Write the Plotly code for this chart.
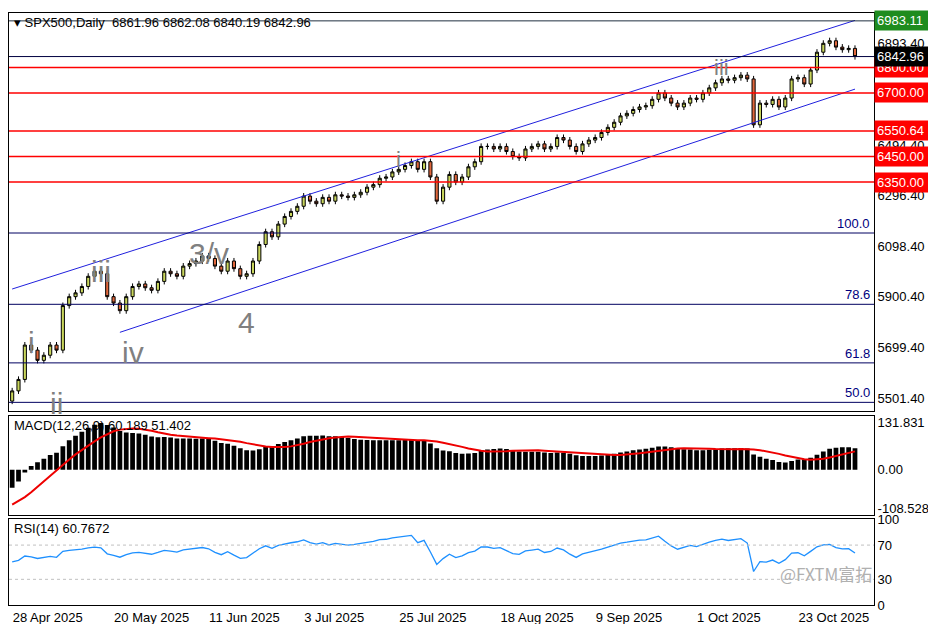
import pandas as pd
import plotly.graph_objects as go
from plotly.subplots import make_subplots

# closes before the visible window (only used so the indicators are warmed up)
hist_closes = [5850, 5780, 5840, 5740, 5770, 5615, 5570, 5600, 5520, 5640, 5675, 5615, 5660, 5665,
               5660, 5770, 5780, 5710, 5690, 5580, 5610, 5400, 5080, 5060, 5000, 5460, 5270, 5360,
               5400, 5400, 5280, 5160, 5290, 5370, 5480, 5490]

# visible daily closes, from 28 Apr 2025
closes = [5530, 5575, 5710, 5690, 5650, 5670, 5710, 5690, 5865, 5900, 5915, 5940, 5980, 6000,
          5990, 5900, 5875, 5845, 5900, 5940, 5950, 5935, 5925, 5960, 6000, 5990, 5980, 6020,
          6030, 6040, 6060, 6050, 6020, 6000, 6040, 6010, 5980, 5990, 6040, 6105, 6155, 6135,
          6185, 6215, 6235, 6255, 6295, 6275, 6265, 6290, 6275, 6300, 6295, 6290, 6300, 6310,
          6330, 6340, 6365, 6370, 6390, 6400, 6415, 6430, 6400, 6430, 6370, 6275, 6330, 6380,
          6350, 6370, 6410, 6430, 6490, 6490, 6480, 6490, 6470, 6450, 6445, 6480, 6490, 6500,
          6480, 6490, 6525, 6515, 6490, 6470, 6500, 6515, 6525, 6545, 6565, 6585, 6610, 6620,
          6635, 6645, 6650, 6675, 6700, 6680, 6660, 6645, 6660, 6680, 6675, 6700, 6720, 6740,
          6755, 6750, 6760, 6770, 6755, 6575, 6660, 6655, 6675, 6645, 6680, 6755, 6760, 6735,
          6790, 6860, 6895, 6905, 6880, 6870, 6875, 6842.96]
wick = 12

holidays = ["2025-05-26", "2025-06-19", "2025-07-04", "2025-09-01"]
days = [d for d in pd.bdate_range("2025-04-28", periods=len(closes) + 6).strftime("%Y-%m-%d")
        if d not in holidays][:len(closes)]

tick_dates = ["2025-04-28", "2025-05-20", "2025-06-11", "2025-07-03", "2025-07-25",
              "2025-08-18", "2025-09-09", "2025-10-01", "2025-10-23"]
tick_text = ["28 Apr 2025", "20 May 2025", "11 Jun 2025", "3 Jul 2025", "25 Jul 2025",
             "18 Aug 2025", "9 Sep 2025", "1 Oct 2025", "23 Oct 2025"]

red_levels = [6800.00, 6700.00, 6550.64, 6450.00, 6350.00]
fib_levels = [6150, 5870, 5640, 5485]
fib_names = ["100.0", "78.6", "61.8", "50.0"]
price_ticks = [5501.40, 5699.40, 5900.40, 6098.40, 6296.40, 6494.40, 6893.40]

upper_channel = [5930, 6985]
lower_channel = [5760, 6715]

waves = [("i", 3, 5720, 30), ("ii", 7, 5480, 30), ("iii", 14, 6000, 30), ("iv", 19, 5680, 30),
         ("3/v", 31, 6070, 30), ("4", 37, 5800, 30), ("i", 61, 6440, 22), ("iii", 112, 6800, 22)]

all_c = pd.Series(hist_closes + closes)
opens = [hist_closes[-1]] + closes[:-1]
highs = [max(o, c) + wick for o, c in zip(opens, closes)]
lows = [min(o, c) - wick for o, c in zip(opens, closes)]

macd_all = all_c.ewm(span=12, adjust=False).mean() - all_c.ewm(span=26, adjust=False).mean()
signal_all = macd_all.rolling(9).mean()
delta = all_c.diff()
gain = delta.clip(lower=0).ewm(alpha=1 / 14, adjust=False).mean()
loss = (-delta.clip(upper=0)).ewm(alpha=1 / 14, adjust=False).mean()
rsi_all = 100 - 100 / (1 + gain / loss)
n0 = len(hist_closes)
macd = macd_all[n0:].tolist()
signal = signal_all[n0:].tolist()
rsi = rsi_all[n0:].tolist()

fig = make_subplots(rows=3, cols=1, shared_xaxes=True, vertical_spacing=0.008,
                    row_heights=[0.67, 0.166, 0.144])

fig.add_trace(go.Candlestick(x=days, open=opens, high=highs, low=lows, close=closes,
                             increasing=dict(line=dict(color="black", width=1), fillcolor="#c9d65c"),
                             decreasing=dict(line=dict(color="black", width=1), fillcolor="#e0673c"),
                             whiskerwidth=0, showlegend=False), row=1, col=1)

lab = dict(family="Liberation Sans", size=13, color="white")


def tag(y, text, color):
    fig.add_annotation(x=1.0, xref="x domain", xanchor="left", y=y, yref="y", text=text,
                       showarrow=False, bgcolor=color, font=lab, borderpad=2, width=60,
                       align="left")


for lvl in red_levels:
    fig.add_hline(y=lvl, line=dict(color="#ff0000", width=1.5), row=1, col=1)
    tag(lvl, f"{lvl:.2f}", "#ff0000")
for lvl, name in zip(fib_levels, fib_names):
    fig.add_hline(y=lvl, line=dict(color="#000060", width=1), row=1, col=1)
    fig.add_annotation(x=0.998, xref="x domain", xanchor="right", y=lvl, yref="y",
                       yanchor="bottom", text=name, showarrow=False,
                       font=dict(family="Liberation Sans", color="#000080", size=13))
fig.add_hline(y=6983.11, line=dict(color="#203040", width=1), row=1, col=1)
tag(6983.11, "6983.11", "#1e8c1e")
fig.add_hline(y=closes[-1], line=dict(color="#000040", width=1), row=1, col=1)
tag(closes[-1], f"{closes[-1]:.2f}", "black")

fig.add_trace(go.Scatter(x=[days[0], days[-1]], y=upper_channel, mode="lines",
                         line=dict(color="#2020dd", width=1), showlegend=False), row=1, col=1)
fig.add_trace(go.Scatter(x=[days[17], days[-1]], y=lower_channel, mode="lines",
                         line=dict(color="#2020dd", width=1), showlegend=False), row=1, col=1)

for txt, i, p, sz in waves:
    fig.add_annotation(x=days[i], y=p, xref="x", yref="y", text=txt, showarrow=False,
                       font=dict(family="Liberation Sans", color="#808080", size=sz))

fig.add_trace(go.Bar(x=days, y=macd, marker=dict(color="black", line_width=0), width=0.75,
                     showlegend=False), row=2, col=1)
fig.add_trace(go.Scatter(x=days, y=signal, mode="lines", line=dict(color="#ee0000", width=2),
                         showlegend=False), row=2, col=1)
fig.add_trace(go.Scatter(x=days, y=rsi, mode="lines", line=dict(color="#1e90ff", width=1.3),
                         showlegend=False), row=3, col=1)
for lvl in [70, 30]:
    fig.add_hline(y=lvl, line=dict(color="#c0c0c0", width=1, dash="dot"), row=3, col=1)

txt_font = dict(family="Liberation Sans", size=13, color="black")
fig.add_annotation(x=0.003, y=1.0, xref="x domain", yref="y domain", xanchor="left",
                   yanchor="top", text="▾ SPX500,Daily  6861.96 6862.08 6840.19 6842.96",
                   showarrow=False, font=txt_font)
fig.add_annotation(x=0.003, y=1.0, xref="x2 domain", yref="y2 domain", xanchor="left",
                   yanchor="top", text=f"MACD(12,26,9) {macd[-1]:.3f} {signal[-1]:.3f}",
                   showarrow=False, font=txt_font)
fig.add_annotation(x=0.003, y=1.0, xref="x3 domain", yref="y3 domain", xanchor="left",
                   yanchor="top", text=f"RSI(14) {rsi[-1]:.4f}", showarrow=False, font=txt_font)
fig.add_annotation(x=1.0, y=0.2, xref="x3 domain", yref="y3 domain", xanchor="right",
                   text="@FXTM富拓", showarrow=False,
                   font=dict(family="Noto Sans CJK SC", size=17, color="#b0b0b0"))

ax = dict(showgrid=False, linecolor="black", mirror=True, showline=True, ticks="",
          automargin=False, tickfont=dict(family="Liberation Sans", size=13, color="black"))
fig.update_xaxes(type="category", rangeslider_visible=False, range=[-0.5, len(days) + 2.0],
                 tickvals=tick_dates, ticktext=tick_text, tickangle=0,
                 ticklabelposition="outside right", **ax)
fig.update_yaxes(side="right", zeroline=False, **ax)
fig.update_yaxes(range=[5450, 7014], tickvals=price_ticks, ticktext=[f"{v:.2f}" for v in price_ticks],
                 row=1, col=1)
fig.update_yaxes(range=[-125, 150], tickvals=[131.831, 0, -108.528],
                 ticktext=["131.831", "0.00", "-108.528"], row=2, col=1)
fig.update_yaxes(range=[0, 100], tickvals=[100, 70, 30, 0], row=3, col=1)

fig.update_layout(width=936, height=624, margin=dict(l=1, r=70, t=5, b=27),
                  paper_bgcolor="white", plot_bgcolor="white",
                  font=dict(family="Liberation Sans", size=13), bargap=0.2)
fig.write_html("out.html")
